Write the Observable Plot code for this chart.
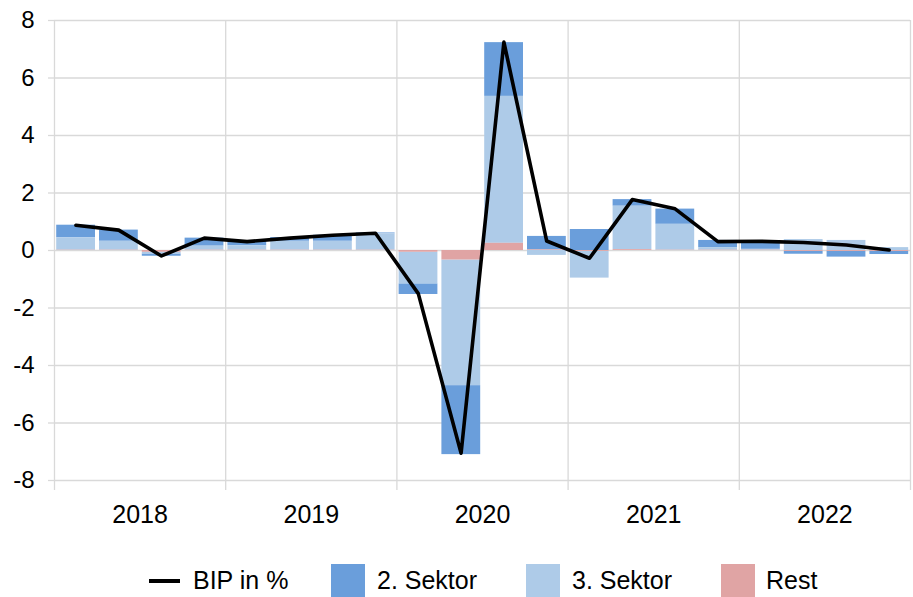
<!DOCTYPE html>
<html><head><meta charset="utf-8">
<script src="https://cdn.jsdelivr.net/npm/d3@7"></script>
<script src="https://cdn.jsdelivr.net/npm/@observablehq/plot@0.6"></script>
<style>
body{margin:0;background:#fff;font-family:"Liberation Sans",Arial,sans-serif;}
#wrap{position:relative;width:913px;height:597px;overflow:hidden;}
.leg{position:absolute;font-size:25px;color:#000;line-height:25px;white-space:nowrap;}
.sw{position:absolute;}
</style></head><body><div id="wrap"></div>
<script>
const quarters = ["2018 Q1","2018 Q2","2018 Q3","2018 Q4","2019 Q1","2019 Q2","2019 Q3","2019 Q4",
  "2020 Q1","2020 Q2","2020 Q3","2020 Q4","2021 Q1","2021 Q2","2021 Q3","2021 Q4",
  "2022 Q1","2022 Q2","2022 Q3","2022 Q4"];
const sektor2 = [0.44, 0.39, -0.08, 0.28, 0.17, 0.13, 0.21, 0.03, -0.37, -2.40, 1.87, 0.47, 0.73, 0.23, 0.53, 0.25, 0.28, -0.10, -0.20, -0.11];
const sektor3 = [0.43, 0.31, -0.06, 0.14, 0.15, 0.31, 0.31, 0.57, -1.10, -4.37, 5.11, -0.17, -0.93, 1.51, 0.90, 0.09, 0.03, 0.38, 0.35, 0.10];
const rest    = [0.01, 0.01, -0.06, 0.01, 0.01, 0.01, 0.01, 0.01, -0.06, -0.33, 0.25, 0.02, -0.03, 0.03, 0.01, 0.01, 0.01, -0.03, -0.03, -0.03];
const bip     = [0.88, 0.71, -0.19, 0.43, 0.31, 0.43, 0.53, 0.60, -1.50, -7.05, 7.25, 0.33, -0.27, 1.77, 1.45, 0.31, 0.32, 0.28, 0.19, 0.02];
const seriesNames = ["2. Sektor", "3. Sektor", "Rest"];
const seriesColors = ["#6a9edb", "#aecbe8", "#e0a4a4"];
const stackOrder = ["Rest", "3. Sektor", "2. Sektor"];
const years = [2018, 2019, 2020, 2021, 2022];
const yTicks = [-8, -6, -4, -2, 0, 2, 4, 6, 8];

const values = [sektor2, sektor3, rest];
const pos = q => { const [y, qq] = q.split(" Q").map(Number); return y + (qq - 1) / 4; };
const barData = quarters.flatMap((q, i) => seriesNames.map((s, k) => ({t0: pos(q), t1: pos(q) + 0.25, series: s, value: values[k][i]})));
const lineData = quarters.map((q, i) => ({t: pos(q) + 0.125, bip: bip[i]}));
const yearBounds = years.concat([years[years.length - 1] + 1]);
const yearMids = years.map(y => y + 0.5);

const chart = Plot.plot({
  width: 913, height: 545,
  marginLeft: 54, marginRight: 3, marginTop: 20, marginBottom: 65,
  style: {fontFamily: "'Liberation Sans', Arial, sans-serif", background: "#fff", color: "#000"},
  x: {domain: [yearBounds[0], yearBounds[yearBounds.length - 1]]},
  y: {domain: [yTicks[0], yTicks[yTicks.length - 1]]},
  color: {domain: seriesNames, range: seriesColors},
  marks: [
    Plot.gridY({ticks: yTicks, stroke: "#d9d9d9", strokeOpacity: 1, strokeWidth: 1.3}),
    Plot.gridX({ticks: yearBounds, stroke: "#d9d9d9", strokeOpacity: 1, strokeWidth: 1.3}),
    Plot.axisY({ticks: yTicks, tickSize: 6, tickPadding: 14, fontSize: 24, stroke: "#d9d9d9", strokeWidth: 1.3, tickFormat: d => String(d)}),
    Plot.axisX({ticks: yearBounds, tickSize: 10, stroke: "#d9d9d9", strokeWidth: 1.3, tickFormat: () => ""}),
    Plot.axisX({ticks: yearMids, tickSize: 0, tickPadding: 25, fontSize: 25, tickFormat: d => String(Math.floor(d))}),
    Plot.rect(barData, Plot.stackY({x1: "t0", x2: "t1", y: "value", fill: "series", order: stackOrder, insetLeft: 2.2, insetRight: 1.8})),
    Plot.line(lineData, {x: "t", y: "bip", stroke: "#000", strokeWidth: 3.6})
  ]
});
const wrap = document.getElementById("wrap");
wrap.appendChild(chart);

const legend = [
  {label: "BIP in %", type: "line", color: "#000", sx: 149, tx: 193},
  {label: seriesNames[0], type: "box", color: seriesColors[0], sx: 331, tx: 377},
  {label: seriesNames[1], type: "box", color: seriesColors[1], sx: 526, tx: 572},
  {label: seriesNames[2], type: "box", color: seriesColors[2], sx: 721, tx: 766}
];
for (const l of legend) {
  const sw = document.createElement("div");
  sw.className = "sw";
  sw.style.left = l.sx + "px";
  sw.style.background = l.color;
  if (l.type === "line") { sw.style.top = "579px"; sw.style.width = "31px"; sw.style.height = "3.5px"; }
  else { sw.style.top = "564px"; sw.style.width = "34px"; sw.style.height = "33px"; }
  wrap.appendChild(sw);
  const tx = document.createElement("div");
  tx.className = "leg";
  tx.style.left = l.tx + "px";
  tx.style.top = "568px";
  tx.textContent = l.label;
  wrap.appendChild(tx);
}
</script></body></html>
